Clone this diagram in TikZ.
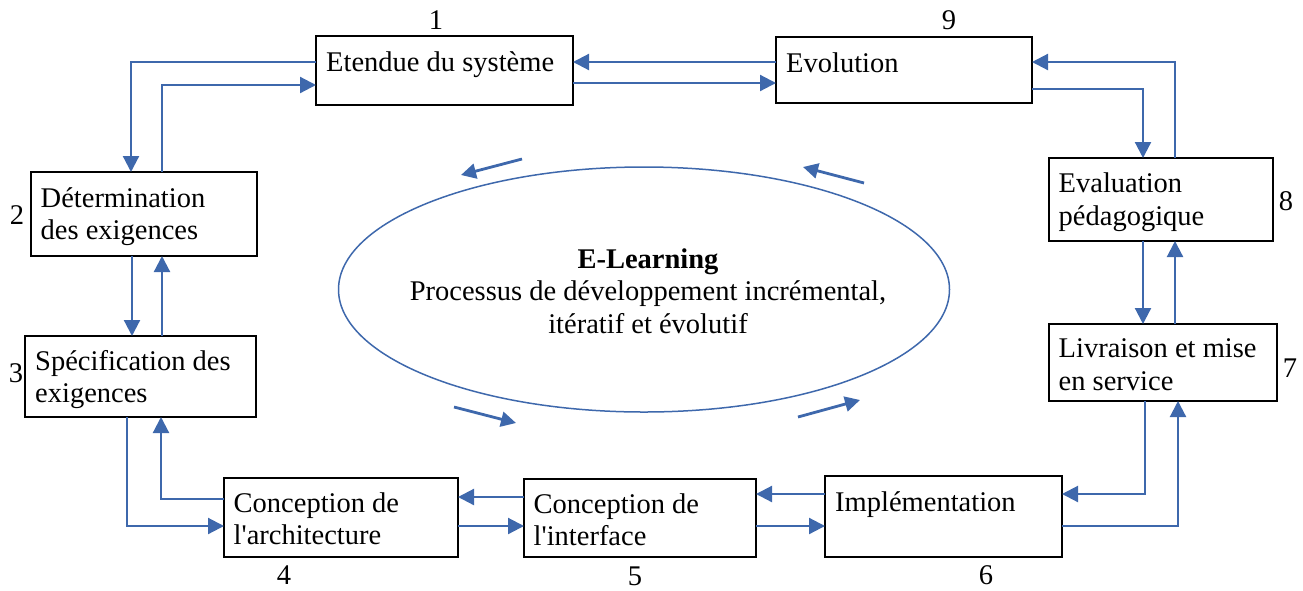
\documentclass[tikz,border=0pt]{standalone}
\usepackage{fontspec}
\setmainfont{Liberation Serif}
\usetikzlibrary{arrows.meta,calc,shapes.geometric}
\definecolor{flowblue}{RGB}{62,104,172}
\newcommand{\apos}{\textquotesingle}
\begin{document}
\begin{tikzpicture}[x=1pt,y=-1pt,
  stage/.style={draw=black,line width=1.8pt,rectangle,inner sep=0pt,outer sep=0pt},
  stagetext/.style={anchor=base west,inner sep=0pt,align=left,
    font=\fontsize{28.5}{32.5}\selectfont},
  stepnum/.style={inner sep=0pt,font=\fontsize{28.5}{32.5}\selectfont},
  conn/.style={draw=flowblue,line width=2.2pt,
    -{Triangle[length=16pt,width=16pt]}},
  cyclearrow/.style={draw=flowblue,line width=2.8pt,
    -{Triangle[length=15pt,width=15pt]}},
]
\useasboundingbox (0,0) rectangle (1303,590);

% stages of the cycle
\node[stage,minimum width=257pt,minimum height=69pt] (b1) at (444.5,70.5) {};
\node[stage,minimum width=256pt,minimum height=66pt] (b9) at (904,70) {};
\node[stage,minimum width=226pt,minimum height=84pt] (b2) at (144,214) {};
\node[stage,minimum width=231pt,minimum height=81pt] (b3) at (140.5,376.5) {};
\node[stage,minimum width=224pt,minimum height=83pt] (b8) at (1161,199.5) {};
\node[stage,minimum width=228pt,minimum height=77pt] (b7) at (1163,362.5) {};
\node[stage,minimum width=234pt,minimum height=79pt] (b4) at (341,517.5) {};
\node[stage,minimum width=232pt,minimum height=78pt] (b5) at (640,518) {};
\node[stage,minimum width=237pt,minimum height=81pt] (b6) at (943.5,516.5) {};

% stage captions (base anchor sits on the last line)
\node[stagetext] (t1) at ($(b1.north west)+(10,35)$) {Etendue du système};
\node[stagetext] (t9) at ($(b9.north west)+(10,35)$) {Evolution};
\node[stagetext] (t2) at ($(b2.north west)+(9.5,67.5)$) {Détermination\\des exigences};
\node[stagetext] (t3) at ($(b3.north west)+(10,66.5)$) {Spécification des\\exigences};
\node[stagetext] (t8) at ($(b8.north west)+(9.5,67)$) {Evaluation\\pédagogique};
\node[stagetext] (t7) at ($(b7.north west)+(9.5,66)$) {Livraison et mise\\en service};
\node[stagetext] (t4) at ($(b4.north west)+(9.5,66.5)$) {Conception de\\l\apos architecture};
\node[stagetext] (t5) at ($(b5.north west)+(9.5,66.5)$) {Conception de\\l\apos interface};
\node[stagetext] (t6) at ($(b6.north west)+(10,35)$) {Implémentation};

% step numbers
\node[stepnum] (n1) at (436,20) {1};
\node[stepnum] (n2) at (17,215) {2};
\node[stepnum] (n3) at (16,373) {3};
\node[stepnum] (n4) at (284,575) {4};
\node[stepnum] (n5) at (635,576) {5};
\node[stepnum] (n6) at (986,575) {6};
\node[stepnum] (n7) at (1290,368) {7};
\node[stepnum] (n8) at (1286,201) {8};
\node[stepnum] (n9) at (949,20) {9};

% links between stages
\draw[conn] ($(b1.north west)+(0,26)$) -| ($(b2.north west)+(100,0)$);
\draw[conn] ($(b2.north west)+(131,0)$) |- ($(b1.north west)+(0,49)$);
\draw[conn] ($(b9.north west)+(0,25)$) -- ($(b1.north east)+(0,26)$);
\draw[conn] ($(b1.north east)+(0,47)$) -- ($(b9.north west)+(0,46)$);
\draw[conn] ($(b9.north east)+(0,52)$) -| ($(b8.north west)+(94,0)$);
\draw[conn] ($(b8.north west)+(126,0)$) |- ($(b9.north east)+(0,25)$);
\draw[conn] ($(b8.south west)+(94,0)$) -- ($(b7.north west)+(94,0)$);
\draw[conn] ($(b7.north west)+(126,0)$) -- ($(b8.south west)+(126,0)$);
\draw[conn] ($(b7.south west)+(96,0)$) |- ($(b6.north east)+(0,18)$);
\draw[conn] ($(b6.north east)+(0,50)$) -| ($(b7.south west)+(129,0)$);
\draw[conn] ($(b6.north west)+(0,18)$) -- ($(b5.north east)+(0,15)$);
\draw[conn] ($(b5.north east)+(0,47)$) -- ($(b6.north west)+(0,50)$);
\draw[conn] ($(b5.north west)+(0,18)$) -- ($(b4.north east)+(0,19)$);
\draw[conn] ($(b4.north east)+(0,48)$) -- ($(b5.north west)+(0,47)$);
\draw[conn] ($(b4.north west)+(0,21)$) -| ($(b3.south west)+(136,0)$);
\draw[conn] ($(b3.south west)+(102,0)$) |- ($(b4.north west)+(0,48)$);
\draw[conn] ($(b2.south west)+(101,0)$) -- ($(b3.north west)+(107,0)$);
\draw[conn] ($(b3.north west)+(137,0)$) -- ($(b2.south west)+(131,0)$);

% central cycle
\node[draw=flowblue,line width=1.5pt,ellipse,inner sep=0pt,
  minimum width=611pt,minimum height=245pt] (core) at (644,289.5) {};
\node[inner sep=0pt,align=center,anchor=base,
  font=\fontsize{28.5}{32.5}\selectfont] (coretext) at (648,333)
  {\textbf{E-Learning}\\Processus de développement incrémental,\\itératif et évolutif};

% direction marks around the cycle
\coordinate (tlA) at (522,159);  \coordinate (tlB) at (461,175);
\coordinate (trA) at (864,183);  \coordinate (trB) at (803,167);
\coordinate (blA) at (454,407);  \coordinate (blB) at (516,423);
\coordinate (brA) at (798,417);  \coordinate (brB) at (860,400);
\draw[cyclearrow] (tlA) -- (tlB);
\draw[cyclearrow] (trA) -- (trB);
\draw[cyclearrow] (blA) -- (blB);
\draw[cyclearrow] (brA) -- (brB);
\end{tikzpicture}
\end{document}
